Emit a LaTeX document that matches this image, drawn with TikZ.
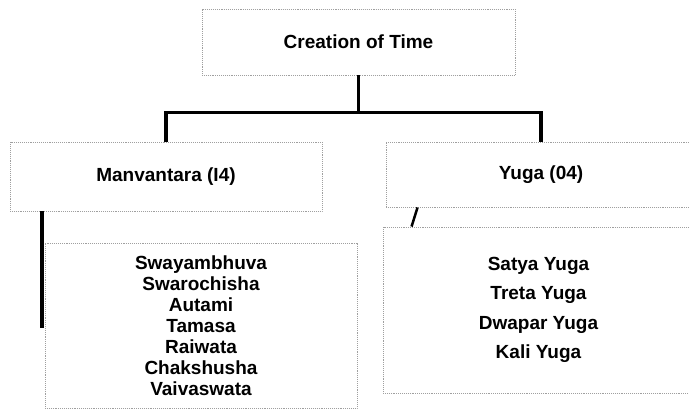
\documentclass[tikz,border=0pt]{standalone}
\usepackage{fontspec}
\setmainfont{Liberation Sans}
\usetikzlibrary{positioning}

\begin{document}
\begin{tikzpicture}[
  x=1pt, y=-1pt,
  box/.style={rectangle, draw=gray!75, densely dotted, line width=0.9pt,
              inner sep=0pt, align=center,
              font=\fontsize{19}{21}\selectfont\bfseries},
  conn/.style={line width=3.6pt, black}
]
  \useasboundingbox (0,0) rectangle (689,412);

  \node[box, minimum width=313pt, minimum height=66pt] (time) at (358.5,42)
    {Creation of Time};
  \node[box, minimum width=312pt, minimum height=69pt] (manv) at (166,176.5)
    {Manvantara (I4)};
  \node[box, minimum width=310pt, minimum height=65pt] (yuga) at (541,174.5)
    {Yuga (04)};
  \node[box, minimum width=312pt, minimum height=165pt] (mlist) at (201,325.5)
    {Swayambhuva\\Swarochisha\\Autami\\Tamasa\\Raiwata\\Chakshusha\\Vaivaswata};
  \node[box, minimum width=311pt, minimum height=166pt,
        font=\fontsize{19}{29.5}\selectfont\bfseries] (ylist) at (538.5,310)
    {Satya Yuga\\Treta Yuga\\Dwapar Yuga\\Kali Yuga};

  \coordinate (mend) at (42,328);

  \draw[conn] (time.south) -- ++(0,37) -| (manv.north);
  \draw[conn] (time.south) -- ++(0,37) -| (yuga.north);
  \draw[conn] (manv.south west -| mend) -- (mend);
  \draw[conn, line width=2.5pt] ([xshift=32pt]yuga.south west)
    -- ([xshift=29pt]ylist.north west);
\end{tikzpicture}
\end{document}
